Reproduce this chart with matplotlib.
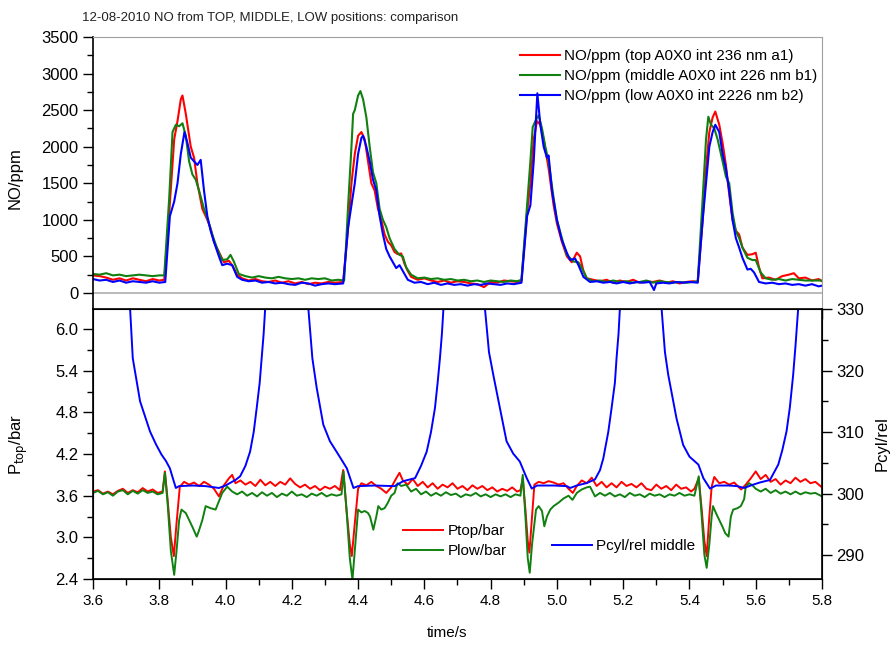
import numpy as np
import matplotlib
matplotlib.use("Agg")
import matplotlib.pyplot as plt
from matplotlib.ticker import MultipleLocator, FormatStrFormatter

plt.rcParams['font.family'] = ['Liberation Sans', 'DejaVu Sans']

# --- data (time/s, value) ---
title = "12-08-2010 NO from TOP, MIDDLE, LOW positions: comparison"
no_labels = ["NO/ppm (top A0X0 int 236 nm a1)",
             "NO/ppm (middle A0X0 int 226 nm b1)",
             "NO/ppm (low A0X0 int 2226 nm b2)"]
p_labels = ["Ptop/bar", "Plow/bar", "Pcyl/rel middle"]

no_top = [(3.60, 240), (3.62, 230), (3.64, 210), (3.66, 180), (3.68, 200), (3.70, 170), (3.72, 200),
          (3.74, 180), (3.76, 160), (3.78, 190), (3.80, 170), (3.815, 180), (3.83, 1100), (3.845, 2100),
          (3.855, 2350), (3.865, 2650), (3.870, 2700), (3.88, 2450), (3.895, 2000), (3.905, 1850),
          (3.915, 1500), (3.93, 1150), (3.945, 1000), (3.955, 880), (3.965, 700), (3.98, 560),
          (3.995, 420), (4.01, 440), (4.02, 380), (4.035, 250), (4.05, 200), (4.07, 170), (4.09, 190),
          (4.11, 160), (4.13, 150), (4.15, 170), (4.17, 140), (4.19, 160), (4.21, 130), (4.23, 150),
          (4.25, 120), (4.27, 140), (4.29, 130), (4.31, 150), (4.33, 140), (4.355, 150), (4.37, 900),
          (4.38, 1500), (4.39, 1900), (4.40, 2150), (4.41, 2200), (4.42, 2100), (4.43, 1800),
          (4.44, 1500), (4.45, 1400), (4.46, 1150), (4.47, 1000), (4.48, 800), (4.49, 700), (4.50, 650),
          (4.51, 560), (4.52, 530), (4.53, 540), (4.54, 400), (4.55, 300), (4.56, 220), (4.58, 180),
          (4.60, 200), (4.62, 170), (4.64, 150), (4.66, 170), (4.68, 140), (4.70, 160), (4.72, 150),
          (4.74, 130), (4.76, 120), (4.78, 80), (4.80, 150), (4.82, 140), (4.84, 170), (4.86, 160),
          (4.88, 150), (4.893, 170), (4.91, 1100), (4.92, 1500), (4.93, 2100), (4.94, 2350),
          (4.95, 2300), (4.96, 2100), (4.975, 1700), (4.99, 1200), (5.00, 950), (5.015, 700),
          (5.03, 500), (5.045, 420), (5.06, 550), (5.07, 500), (5.08, 300), (5.09, 200), (5.11, 180),
          (5.13, 160), (5.15, 180), (5.17, 140), (5.19, 170), (5.21, 150), (5.23, 180), (5.25, 140),
          (5.27, 160), (5.29, 150), (5.31, 170), (5.33, 140), (5.35, 160), (5.37, 130), (5.39, 150),
          (5.41, 160), (5.425, 150), (5.44, 1000), (5.45, 1700), (5.46, 2200), (5.47, 2400),
          (5.478, 2480), (5.49, 2300), (5.50, 2050), (5.51, 1750), (5.52, 1350), (5.53, 1000),
          (5.54, 850), (5.55, 800), (5.56, 620), (5.575, 520), (5.59, 530), (5.60, 550), (5.61, 350),
          (5.62, 200), (5.64, 210), (5.66, 180), (5.68, 230), (5.70, 250), (5.715, 270), (5.73, 200),
          (5.75, 210), (5.77, 170), (5.79, 190), (5.80, 160)]

no_middle = [(3.60, 260), (3.62, 250), (3.64, 270), (3.66, 240), (3.68, 250), (3.70, 230), (3.72, 240),
             (3.74, 250), (3.76, 240), (3.78, 230), (3.80, 240), (3.815, 240), (3.83, 1300), (3.84, 2200),
             (3.85, 2300), (3.86, 2280), (3.87, 2320), (3.88, 2150), (3.89, 1800), (3.90, 1620),
             (3.91, 1550), (3.92, 1400), (3.935, 1150), (3.95, 950), (3.96, 800), (3.975, 600),
             (3.99, 450), (4.005, 460), (4.015, 520), (4.025, 430), (4.04, 260), (4.06, 230), (4.08, 210),
             (4.10, 230), (4.12, 210), (4.14, 200), (4.16, 220), (4.18, 200), (4.20, 190), (4.22, 200),
             (4.24, 180), (4.26, 200), (4.28, 190), (4.30, 200), (4.32, 170), (4.34, 180), (4.358, 170),
             (4.37, 1200), (4.38, 2000), (4.385, 2450), (4.39, 2500), (4.40, 2700), (4.407, 2760),
             (4.415, 2650), (4.425, 2400), (4.435, 2000), (4.445, 1650), (4.455, 1500), (4.465, 1150),
             (4.475, 1000), (4.485, 900), (4.495, 750), (4.51, 600), (4.525, 520), (4.535, 500),
             (4.545, 350), (4.56, 250), (4.58, 200), (4.60, 210), (4.62, 190), (4.64, 200), (4.66, 180),
             (4.68, 190), (4.70, 170), (4.72, 180), (4.74, 160), (4.76, 170), (4.78, 150), (4.80, 170),
             (4.82, 160), (4.84, 150), (4.86, 170), (4.88, 160), (4.893, 180), (4.91, 1200), (4.92, 1800),
             (4.927, 2270), (4.935, 2350), (4.945, 2430), (4.955, 2250), (4.965, 2000), (4.975, 1800),
             (4.99, 1300), (5.00, 1000), (5.015, 750), (5.03, 520), (5.05, 430), (5.065, 420), (5.08, 300),
             (5.09, 200), (5.11, 160), (5.13, 170), (5.15, 150), (5.17, 170), (5.19, 150), (5.21, 160),
             (5.23, 140), (5.25, 150), (5.27, 170), (5.29, 140), (5.31, 160), (5.33, 150), (5.35, 140),
             (5.37, 150), (5.39, 140), (5.41, 150), (5.425, 160), (5.44, 1300), (5.45, 2100),
             (5.457, 2410), (5.465, 2300), (5.475, 2250), (5.485, 2100), (5.50, 1800), (5.51, 1590),
             (5.52, 1500), (5.53, 1100), (5.54, 850), (5.55, 750), (5.56, 620), (5.575, 480), (5.59, 450),
             (5.60, 450), (5.615, 280), (5.63, 200), (5.65, 180), (5.67, 190), (5.69, 170), (5.71, 190),
             (5.73, 180), (5.75, 170), (5.77, 170), (5.80, 170)]

no_low = [(3.60, 190), (3.62, 170), (3.64, 180), (3.66, 150), (3.68, 170), (3.70, 140), (3.72, 160),
          (3.74, 150), (3.76, 140), (3.78, 160), (3.80, 140), (3.818, 150), (3.832, 1050), (3.845, 1250),
          (3.855, 1500), (3.865, 1900), (3.876, 2200), (3.885, 2050), (3.895, 1850), (3.905, 1800),
          (3.915, 1750), (3.925, 1820), (3.935, 1400), (3.945, 1050), (3.955, 850), (3.965, 700),
          (3.98, 500), (3.99, 380), (4.005, 400), (4.02, 380), (4.035, 220), (4.05, 180), (4.07, 160),
          (4.09, 170), (4.11, 140), (4.13, 150), (4.15, 130), (4.17, 140), (4.19, 120), (4.21, 110),
          (4.23, 140), (4.25, 130), (4.27, 100), (4.29, 120), (4.31, 130), (4.33, 120), (4.355, 130),
          (4.37, 900), (4.38, 1200), (4.39, 1500), (4.40, 1900), (4.41, 2120), (4.415, 2150),
          (4.425, 2000), (4.435, 1800), (4.445, 1550), (4.455, 1400), (4.465, 1050), (4.475, 800),
          (4.485, 600), (4.495, 500), (4.505, 420), (4.515, 340), (4.525, 380), (4.535, 300),
          (4.55, 180), (4.57, 140), (4.59, 150), (4.61, 120), (4.63, 140), (4.65, 110), (4.67, 130),
          (4.69, 110), (4.71, 120), (4.73, 100), (4.75, 120), (4.77, 110), (4.79, 130), (4.81, 120),
          (4.83, 110), (4.85, 130), (4.87, 120), (4.893, 140), (4.91, 1050), (4.92, 1200), (4.93, 1800),
          (4.936, 2300), (4.941, 2730), (4.95, 2300), (4.96, 2000), (4.97, 1850), (4.975, 1880),
          (4.985, 1400), (5.00, 1000), (5.015, 720), (5.03, 550), (5.04, 450), (5.055, 470),
          (5.065, 380), (5.08, 220), (5.10, 150), (5.12, 160), (5.14, 140), (5.16, 150), (5.18, 130),
          (5.20, 150), (5.22, 130), (5.24, 150), (5.26, 140), (5.28, 150), (5.293, 40), (5.30, 130),
          (5.32, 140), (5.34, 130), (5.36, 150), (5.38, 140), (5.40, 150), (5.425, 140), (5.44, 1000),
          (5.45, 1500), (5.46, 2000), (5.47, 2200), (5.478, 2300), (5.49, 2200), (5.50, 1900),
          (5.51, 1700), (5.52, 1400), (5.53, 1000), (5.54, 750), (5.55, 620), (5.56, 480), (5.575, 320),
          (5.585, 330), (5.595, 280), (5.61, 150), (5.63, 130), (5.65, 140), (5.67, 120), (5.69, 130),
          (5.71, 110), (5.73, 120), (5.75, 100), (5.77, 120), (5.79, 90), (5.80, 100)]

p_top = [(3.60, 3.66), (3.615, 3.68), (3.63, 3.63), (3.645, 3.66), (3.66, 3.62), (3.675, 3.67), (3.69, 3.70),
         (3.705, 3.64), (3.72, 3.68), (3.735, 3.65), (3.75, 3.71), (3.765, 3.66), (3.78, 3.69),
         (3.795, 3.64), (3.81, 3.66), (3.817, 3.95), (3.825, 3.55), (3.835, 3.00), (3.844, 2.73),
         (3.852, 3.20), (3.862, 3.73), (3.875, 3.80), (3.89, 3.76), (3.905, 3.79), (3.92, 3.74),
         (3.935, 3.80), (3.95, 3.76), (3.965, 3.70), (3.98, 3.59), (3.995, 3.75), (4.01, 3.85),
         (4.02, 3.90), (4.03, 3.78), (4.045, 3.82), (4.06, 3.76), (4.075, 3.80), (4.09, 3.74),
         (4.105, 3.83), (4.12, 3.75), (4.135, 3.80), (4.15, 3.74), (4.165, 3.80), (4.18, 3.76),
         (4.195, 3.85), (4.21, 3.77), (4.225, 3.72), (4.24, 3.76), (4.255, 3.70), (4.27, 3.74),
         (4.285, 3.68), (4.30, 3.73), (4.315, 3.70), (4.33, 3.74), (4.345, 3.68), (4.355, 3.97),
         (4.365, 3.40), (4.375, 2.90), (4.381, 2.73), (4.39, 3.20), (4.40, 3.70), (4.41, 3.78),
         (4.425, 3.75), (4.44, 3.80), (4.455, 3.74), (4.47, 3.70), (4.485, 3.64), (4.50, 3.72),
         (4.515, 3.85), (4.525, 3.93), (4.535, 3.82), (4.55, 3.76), (4.565, 3.84), (4.58, 3.74),
         (4.595, 3.80), (4.61, 3.72), (4.625, 3.78), (4.64, 3.70), (4.655, 3.76), (4.67, 3.72),
         (4.685, 3.78), (4.70, 3.70), (4.715, 3.74), (4.73, 3.68), (4.745, 3.75), (4.76, 3.70),
         (4.775, 3.74), (4.79, 3.68), (4.805, 3.72), (4.82, 3.66), (4.835, 3.70), (4.85, 3.67),
         (4.865, 3.72), (4.88, 3.66), (4.89, 3.68), (4.897, 3.85), (4.905, 3.40), (4.912, 2.95),
         (4.917, 2.78), (4.925, 3.30), (4.932, 3.76), (4.945, 3.80), (4.96, 3.78), (4.975, 3.81),
         (4.99, 3.79), (5.005, 3.76), (5.02, 3.78), (5.035, 3.70), (5.048, 3.64), (5.06, 3.74),
         (5.075, 3.82), (5.09, 3.78), (5.105, 3.86), (5.12, 3.74), (5.135, 3.80), (5.15, 3.72),
         (5.165, 3.78), (5.18, 3.72), (5.195, 3.80), (5.21, 3.74), (5.225, 3.77), (5.24, 3.72),
         (5.255, 3.78), (5.27, 3.70), (5.285, 3.68), (5.30, 3.76), (5.315, 3.70), (5.33, 3.74),
         (5.345, 3.68), (5.36, 3.76), (5.375, 3.70), (5.39, 3.72), (5.405, 3.66), (5.415, 3.70),
         (5.428, 3.85), (5.437, 3.40), (5.445, 2.95), (5.452, 2.73), (5.46, 3.30), (5.467, 3.73),
         (5.475, 3.87), (5.49, 3.78), (5.505, 3.80), (5.52, 3.76), (5.535, 3.79), (5.55, 3.72),
         (5.556, 3.69), (5.57, 3.76), (5.585, 3.85), (5.60, 3.95), (5.615, 3.84), (5.63, 3.90),
         (5.645, 3.80), (5.66, 3.84), (5.675, 3.76), (5.69, 3.82), (5.705, 3.78), (5.72, 3.86),
         (5.735, 3.80), (5.75, 3.84), (5.765, 3.78), (5.78, 3.80), (5.80, 3.72)]

p_low = [(3.60, 3.64), (3.615, 3.67), (3.63, 3.62), (3.645, 3.65), (3.66, 3.60), (3.675, 3.66), (3.69, 3.68),
         (3.705, 3.62), (3.72, 3.67), (3.735, 3.63), (3.75, 3.68), (3.765, 3.64), (3.78, 3.66),
         (3.795, 3.62), (3.81, 3.64), (3.817, 3.93), (3.825, 3.50), (3.835, 2.80), (3.845, 2.46),
         (3.852, 2.80), (3.860, 3.25), (3.867, 3.40), (3.88, 3.35), (3.89, 3.25), (3.90, 3.15),
         (3.913, 3.01), (3.92, 3.10), (3.93, 3.25), (3.94, 3.45), (3.955, 3.42), (3.97, 3.40),
         (3.99, 3.64), (4.005, 3.73), (4.02, 3.66), (4.035, 3.62), (4.05, 3.66), (4.065, 3.60),
         (4.08, 3.64), (4.095, 3.59), (4.11, 3.65), (4.125, 3.60), (4.14, 3.64), (4.155, 3.58),
         (4.17, 3.63), (4.185, 3.60), (4.20, 3.66), (4.215, 3.60), (4.23, 3.62), (4.245, 3.58),
         (4.26, 3.63), (4.275, 3.60), (4.29, 3.64), (4.305, 3.59), (4.32, 3.62), (4.335, 3.60),
         (4.35, 3.62), (4.356, 3.95), (4.365, 3.40), (4.375, 2.70), (4.383, 2.39), (4.39, 2.80),
         (4.40, 3.40), (4.41, 3.36), (4.42, 3.38), (4.43, 3.35), (4.436, 3.30), (4.446, 3.11),
         (4.455, 3.30), (4.461, 3.45), (4.47, 3.40), (4.48, 3.42), (4.49, 3.50), (4.50, 3.60),
         (4.51, 3.64), (4.519, 3.78), (4.53, 3.74), (4.545, 3.76), (4.56, 3.66), (4.575, 3.70),
         (4.59, 3.62), (4.605, 3.66), (4.62, 3.60), (4.635, 3.64), (4.65, 3.60), (4.665, 3.65),
         (4.68, 3.61), (4.695, 3.63), (4.71, 3.58), (4.725, 3.62), (4.74, 3.60), (4.755, 3.64),
         (4.77, 3.59), (4.785, 3.62), (4.80, 3.58), (4.815, 3.62), (4.83, 3.59), (4.845, 3.62),
         (4.86, 3.58), (4.875, 3.62), (4.89, 3.60), (4.897, 3.90), (4.905, 3.30), (4.912, 2.70),
         (4.918, 2.49), (4.925, 2.90), (4.937, 3.40), (4.945, 3.45), (4.955, 3.38), (4.962, 3.16),
         (4.97, 3.30), (4.98, 3.40), (4.99, 3.45), (5.005, 3.50), (5.02, 3.56), (5.035, 3.60),
         (5.047, 3.54), (5.06, 3.64), (5.075, 3.69), (5.09, 3.72), (5.10, 3.73), (5.115, 3.59),
         (5.13, 3.64), (5.145, 3.60), (5.16, 3.64), (5.175, 3.59), (5.19, 3.62), (5.205, 3.58),
         (5.22, 3.64), (5.235, 3.60), (5.25, 3.62), (5.265, 3.58), (5.28, 3.63), (5.295, 3.60),
         (5.31, 3.62), (5.325, 3.58), (5.34, 3.62), (5.355, 3.60), (5.37, 3.64), (5.385, 3.60),
         (5.40, 3.62), (5.415, 3.60), (5.428, 3.88), (5.437, 3.30), (5.445, 2.75), (5.452, 2.56),
         (5.46, 2.90), (5.467, 3.30), (5.471, 3.45), (5.48, 3.35), (5.49, 3.25), (5.50, 3.15),
         (5.508, 3.06), (5.518, 3.01), (5.525, 3.30), (5.532, 3.40), (5.545, 3.42), (5.555, 3.45),
         (5.565, 3.55), (5.570, 3.73), (5.58, 3.78), (5.59, 3.75), (5.60, 3.70), (5.615, 3.66),
         (5.63, 3.70), (5.645, 3.64), (5.66, 3.68), (5.675, 3.63), (5.69, 3.66), (5.705, 3.62),
         (5.72, 3.66), (5.735, 3.62), (5.75, 3.65), (5.765, 3.63), (5.78, 3.64), (5.80, 3.59)]

# cylinder pressure runs off the top of the right axis between cycles
p_cyl = [(3.60, 360), (3.70, 340), (3.712, 330), (3.72, 322), (3.742, 315), (3.772, 310.1), (3.79, 308),
         (3.807, 306.3), (3.82, 305.3), (3.832, 304.1), (3.842, 302.3), (3.850, 300.9), (3.86, 301.2),
         (3.90, 301.3), (3.94, 301.2), (3.98, 300.9), (4.00, 301.3), (4.013, 301.7), (4.03, 302.2),
         (4.044, 302.8), (4.06, 304.5), (4.074, 306.8), (4.085, 310), (4.094, 313.9), (4.103, 318),
         (4.109, 322), (4.115, 326), (4.119, 329.6), (4.13, 340), (4.20, 360), (4.24, 340), (4.250, 330),
         (4.262, 322), (4.275, 317.2), (4.295, 311.2), (4.315, 308.5), (4.335, 306.8), (4.35, 305.5),
         (4.366, 304.1), (4.376, 302.5), (4.386, 300.9), (4.40, 301.2), (4.45, 301.3), (4.51, 301.2),
         (4.536, 302), (4.55, 302.2), (4.572, 302.5), (4.59, 304.5), (4.607, 306.8), (4.62, 310),
         (4.632, 313.9), (4.64, 318), (4.647, 322), (4.653, 326), (4.657, 329.6), (4.67, 340),
         (4.73, 360), (4.77, 340), (4.783, 330), (4.795, 323), (4.808, 319.3), (4.828, 313.9),
         (4.848, 308.5), (4.868, 306.5), (4.888, 305.2), (4.909, 302.5), (4.924, 300.8), (4.94, 301.3),
         (4.99, 301.3), (5.03, 301.2), (5.04, 300.9), (5.06, 301.3), (5.09, 301.7), (5.115, 302.3),
         (5.13, 303.8), (5.14, 305.7), (5.155, 310), (5.165, 313.9), (5.175, 318), (5.180, 322),
         (5.186, 326), (5.190, 330), (5.20, 340), (5.27, 360), (5.305, 340), (5.316, 330), (5.326, 323),
         (5.336, 319.3), (5.361, 312.2), (5.381, 307.9), (5.40, 306), (5.427, 304.7), (5.442, 302.5),
         (5.462, 300.8), (5.48, 301.3), (5.52, 301.3), (5.544, 301.2), (5.565, 300.9), (5.59, 301.4),
         (5.613, 301.8), (5.643, 302.2), (5.668, 304.7), (5.68, 307), (5.693, 310.1), (5.703, 314),
         (5.713, 319.3), (5.72, 324), (5.728, 330), (5.74, 340), (5.80, 360)]

RED, GREEN, BLUE = '#ff0000', '#108010', '#0000ff'

fig = plt.figure(figsize=(8.96, 6.48), dpi=100)
ax1 = fig.add_axes([0.1038, 0.5231, 0.8136, 0.4198])
ax2 = fig.add_axes([0.1038, 0.1065, 0.8136, 0.4166])
ax3 = ax2.twinx()


def xy(pts):
    a = np.array(pts, dtype=float)
    return a[:, 0], a[:, 1]


# ---- top panel: NO concentrations ----
ax1.axhline(0, color='#b4b4b4', lw=1.3, zorder=1)
for pts, c, lab in zip([no_top, no_middle, no_low], [RED, GREEN, BLUE], no_labels):
    t, v = xy(pts)
    ax1.plot(t, v, color=c, lw=1.5, label=lab)
ax1.set_xlim(3.6, 5.8)
ax1.set_ylim(-220, 3500)
ax1.yaxis.set_major_locator(MultipleLocator(500))
ax1.yaxis.set_minor_locator(MultipleLocator(250))
ax1.xaxis.set_major_locator(MultipleLocator(0.2))
ax1.xaxis.set_minor_locator(MultipleLocator(0.1))
ax1.tick_params(axis='x', which='both', labelbottom=False)
ax1.set_ylabel("NO/ppm", fontsize=12)
ax1.yaxis.set_label_coords(-0.097, 0.48)
for s in ['top', 'right']:
    ax1.spines[s].set_color('#a0a0a0')
ax1.legend(loc='upper left', bbox_to_anchor=(520 / 896, 1 - 49 / 648), bbox_transform=fig.transFigure,
           frameon=False, fontsize=11, handlelength=2.6, handletextpad=0.3, labelspacing=0.4,
           borderpad=0, borderaxespad=0)

# ---- bottom panel: pressures ----
lines = []
for pts, c, lab in zip([p_top, p_low], [RED, GREEN], p_labels[:2]):
    t, v = xy(pts)
    lines += ax2.plot(t, v, color=c, lw=1.4, label=lab)
t, v = xy(p_cyl)
cyl = ax3.plot(t, v, color=BLUE, lw=1.4, label=p_labels[2])

ax2.set_xlim(3.6, 5.8)
ax2.set_ylim(2.4, 6.29)
ax3.set_ylim(286.1, 330)
ax2.yaxis.set_major_locator(MultipleLocator(0.6))
ax2.yaxis.set_minor_locator(MultipleLocator(0.3))
ax2.yaxis.set_major_formatter(FormatStrFormatter('%.1f'))
ax2.xaxis.set_major_locator(MultipleLocator(0.2))
ax2.xaxis.set_minor_locator(MultipleLocator(0.1))
ax2.xaxis.set_major_formatter(FormatStrFormatter('%.1f'))
ax3.yaxis.set_major_locator(MultipleLocator(10))
ax3.yaxis.set_minor_locator(MultipleLocator(5))

ax2.set_ylabel(r"P$_{\mathrm{top}}$/bar", fontsize=12)
ax2.yaxis.set_label_coords(-0.086, 0.5)
ax3.set_ylabel("Pcyl/rel", fontsize=12)
ax3.yaxis.set_label_coords(1.072, 0.5)
ax2.set_xlabel("time/s", fontsize=11)
ax2.xaxis.set_label_coords(0.485, -0.175)

ax2.legend(handles=lines, loc='upper left', bbox_to_anchor=(403 / 896, 1 - 524 / 648),
           bbox_transform=fig.transFigure, frameon=False, fontsize=11, handlelength=2.6,
           handletextpad=0.3, labelspacing=0.4, borderpad=0, borderaxespad=0)
ax3.legend(handles=cyl, loc='upper left', bbox_to_anchor=(552 / 896, 1 - 539 / 648),
           bbox_transform=fig.transFigure, frameon=False, fontsize=11, handlelength=2.6,
           handletextpad=0.3, borderpad=0, borderaxespad=0)

for ax in (ax1, ax2, ax3):
    ax.tick_params(which='major', direction='out', length=7, width=1, labelsize=11)
    ax.tick_params(which='minor', direction='out', length=4, width=1)
for ax in (ax1, ax2, ax3):
    ax.tick_params(axis='y', labelsize=12)
for s in ['left', 'bottom', 'top']:
    ax2.spines[s].set_linewidth(1.2)
ax3.spines['right'].set_linewidth(1.2)
ax1.spines['left'].set_linewidth(1.2)
ax1.spines['bottom'].set_visible(False)

fig.text(82 / 896, 1 - 18 / 648, title, fontsize=9.5, color='#222222', va='center', ha='left')

fig.savefig("out.png", dpi=100)
